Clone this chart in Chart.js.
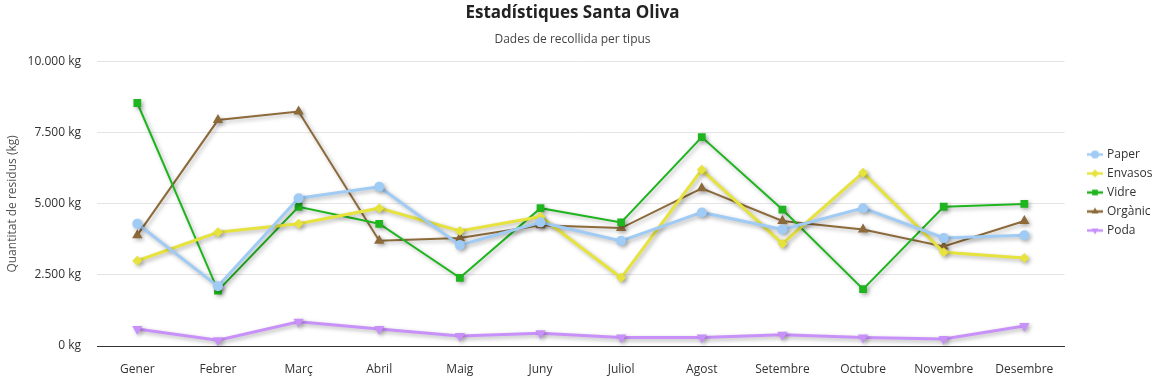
<!DOCTYPE html>
<html>
<head>
<meta charset="utf-8">
<script src="https://cdn.jsdelivr.net/npm/chart.js@4/dist/chart.umd.min.js"></script>
<style>
html,body{margin:0;padding:0;background:#fff;}
</style>
</head>
<body>
<canvas id="c" width="1160" height="379"></canvas>
<script>
const months = ['Gener','Febrer','Març','Abril','Maig','Juny','Juliol','Agost','Setembre','Octubre','Novembre','Desembre'];
const paper   = [4300,2100,5200,5600,3550,4350,3700,4700,4100,4850,3800,3900];
const envasos = [3000,4000,4300,4850,4050,4550,2400,6200,3600,6100,3300,3100];
const vidre   = [8550,1950,4900,4300,2400,4850,4350,7350,4800,2000,4900,5000];
const organic = [3900,7950,8250,3700,3800,4250,4150,5550,4400,4100,3500,4400];
const poda    = [600,200,850,600,350,450,300,300,400,300,250,700];
const yTicks  = [0,2500,5000,7500,10000];

function fmt(v){ return String(v).replace(/\B(?=(\d{3})+(?!\d))/g,'.') + ' kg'; }

const shadow = {
  id:'shadow',
  beforeDatasetDraw(chart){ const c=chart.ctx; c.save(); c.shadowColor='rgba(0,0,0,0.3)'; c.shadowBlur=4; c.shadowOffsetX=2; c.shadowOffsetY=2; },
  afterDatasetDraw(chart){ chart.ctx.restore(); }
};
const legendShift = {
  id:'legendShift',
  afterLayout(chart){
    const lg = chart.legend;
    const w = lg.right - lg.left;
    lg.left = 1082; lg.right = 1082 + w;
    lg.top += 3; lg.bottom += 3;
  }
};

function legendIcon(color, style, rot){
  const cv = document.createElement('canvas');
  cv.width = 16; cv.height = 10;
  const c = cv.getContext('2d');
  c.strokeStyle = color; c.lineWidth = 2.5;
  c.beginPath(); c.moveTo(0,5); c.lineTo(16,5); c.stroke();
  c.fillStyle = color;
  Chart.helpers.drawPoint(c, {pointStyle:style, radius:4, rotation:rot||0, borderWidth:0}, 8, 5);
  return cv;
}

const FONT = "'Open Sans', 'Noto Sans', sans-serif";
Chart.defaults.font.family = FONT;
Chart.defaults.color = '#444';

new Chart(document.getElementById('c'), {
  type:'line',
  data:{
    labels: months,
    datasets:[
      {label:'Paper', data:paper, borderColor:'#9fcbf5', backgroundColor:'#9fcbf5', borderWidth:3, pointStyle:'circle', pointRadius:5, pointBorderWidth:0, tension:0},
      {label:'Envasos', data:envasos, borderColor:'#e6e33f', backgroundColor:'#e6e33f', borderWidth:3, pointStyle:'rectRot', pointRadius:5, pointBorderWidth:0, tension:0},
      {label:'Vidre', data:vidre, borderColor:'#1fb51f', backgroundColor:'#1fb51f', borderWidth:2, pointStyle:'rect', pointRadius:5.5, pointBorderWidth:0, tension:0},
      {label:'Orgànic', data:organic, borderColor:'#8c6a3a', backgroundColor:'#8c6a3a', borderWidth:2, pointStyle:'triangle', pointRadius:6, pointBorderWidth:0, tension:0},
      {label:'Poda', data:poda, borderColor:'#c891fa', backgroundColor:'#c891fa', borderWidth:3, pointStyle:'triangle', pointRotation:180, pointRadius:6, pointBorderWidth:0, tension:0}
    ]
  },
  options:{
    responsive:false,
    animation:false,
    devicePixelRatio:1,
    layout:{padding:{left:0,right:15,top:0,bottom:0}},
    plugins:{
      title:{display:true, text:'Estadístiques Santa Oliva', color:'#222', font:{size:17, weight:'bold', family:FONT}, padding:{top:3,bottom:9}},
      subtitle:{display:true, text:'Dades de recollida per tipus', color:'#444', font:{size:12, family:FONT}, padding:{bottom:15}},
      legend:{position:'right', labels:{usePointStyle:true, padding:7, color:'#333', font:{size:12, family:FONT},
        generateLabels(chart){
          return chart.data.datasets.map((ds,i)=>({
            text: ds.label, fillStyle: ds.backgroundColor, strokeStyle: ds.borderColor, lineWidth:0,
            pointStyle: legendIcon(ds.borderColor, ds.pointStyle, ds.pointRotation), datasetIndex:i, hidden:false, fontColor:'#333'
          }));
        }}},
      tooltip:{enabled:false}
    },
    scales:{
      x:{offset:true, grid:{display:false}, border:{display:true, color:'#333', width:1}, ticks:{color:'#333', font:{size:12}, padding:8, maxRotation:0},
         afterFit(ax){ ax.height = 33; }},
      y:{min:0, max:10000, afterBuildTicks(ax){ ax.ticks = yTicks.map(v=>({value:v})); },
         afterFit(ax){ ax.width = 97; },
         grid:{color:'#e4e4e4', drawTicks:false}, border:{display:false},
         ticks:{callback:(v)=>fmt(v), color:'#333', font:{size:12}, padding:16},
         title:{display:true, text:'Quantitat de residus (kg)', color:'#555', font:{size:12, family:FONT}, padding:{top:5,bottom:0}}}
    }
  },
  plugins:[shadow, legendShift]
});
</script>
</body>
</html>
